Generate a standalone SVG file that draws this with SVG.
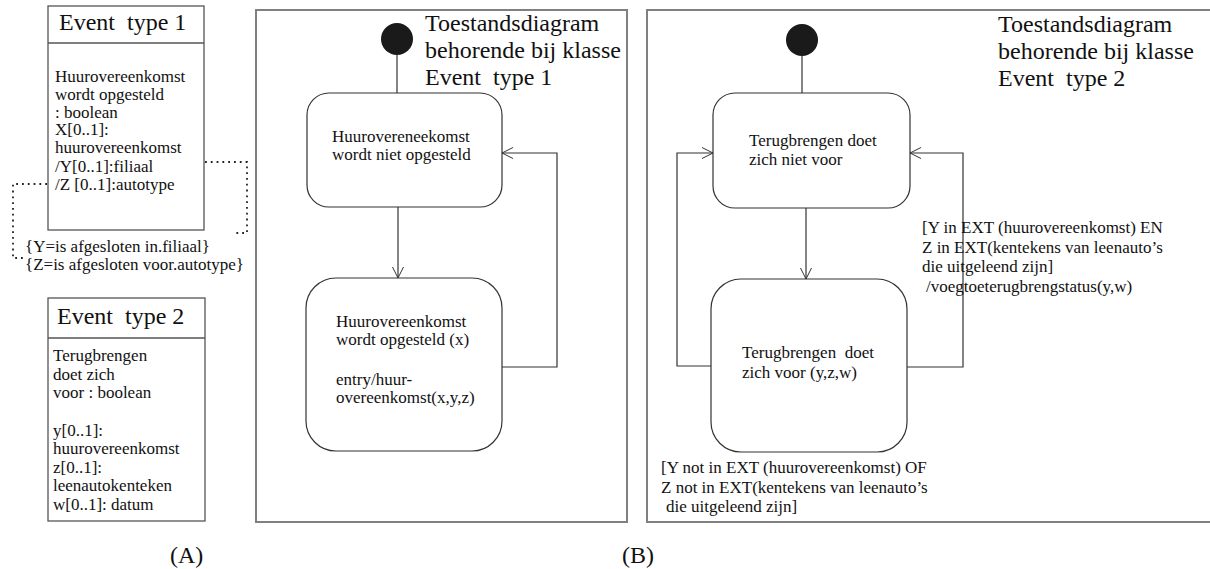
<svg xmlns="http://www.w3.org/2000/svg" width="1210" height="569" viewBox="0 0 1210 569">
  <defs>
    <marker id="open-arrow" markerWidth="13" markerHeight="13" refX="11" refY="6" orient="auto" markerUnits="userSpaceOnUse">
      <path d="M0,0.5 L11,6 L0,11.5" fill="none" stroke="#333" stroke-width="1"/>
    </marker>
  </defs>
  <style>
    text { font-family: "Liberation Serif", "Times New Roman", serif; fill: #111; }
    .t17 { font-size: 17px; }
    .t24 { font-size: 24px; }
    .cls { fill: #fff; stroke: #555; stroke-width: 1.3; }
    .panel { fill: none; stroke: #808080; stroke-width: 2; }
    .state { fill: #fff; stroke: #333; stroke-width: 1.2; }
    .start { fill: #1a1a1a; }
    .wire { fill: none; stroke: #333; stroke-width: 1.2; }
    .dots { fill: none; stroke: #222; stroke-width: 1.8; stroke-dasharray: 1.8 4; }
  </style>

  <rect width="1210" height="569" fill="#fff"/>

  <!-- (A) class boxes -->
  <g id="class-event-type-1">
    <rect class="cls" x="48" y="6" width="156" height="224"/>
    <line class="cls" x1="48" y1="43" x2="204" y2="43"/>
    <text class="t24" x="59" y="30" xml:space="preserve">Event  type 1</text>
    <text class="t17">
      <tspan x="55" y="82">Huurovereenkomst</tspan>
      <tspan x="55" y="100">wordt opgesteld</tspan>
      <tspan x="55" y="118">: boolean</tspan>
      <tspan x="55" y="135">X[0..1]:</tspan>
      <tspan x="55" y="153">huurovereenkomst</tspan>
      <tspan x="55" y="172">/Y[0..1]:filiaal</tspan>
      <tspan x="55" y="190">/Z [0..1]:autotype</tspan>
    </text>
  </g>

  <g id="constraints">
    <path class="dots" d="M205,162 H247 V233 H233"/>
    <path class="dots" d="M47,184 H13 V258 H23"/>
    <text class="t17">
      <tspan x="25" y="252">{Y=is afgesloten in.filiaal}</tspan>
      <tspan x="25" y="270">{Z=is afgesloten voor.autotype}</tspan>
    </text>
  </g>

  <g id="class-event-type-2">
    <rect class="cls" x="48" y="298" width="157" height="223"/>
    <line class="cls" x1="48" y1="338" x2="205" y2="338"/>
    <text class="t24" x="57" y="324" xml:space="preserve">Event  type 2</text>
    <text class="t17">
      <tspan x="53" y="361">Terugbrengen</tspan>
      <tspan x="53" y="380">doet zich</tspan>
      <tspan x="53" y="398">voor : boolean</tspan>
      <tspan x="53" y="436">y[0..1]:</tspan>
      <tspan x="53" y="454">huurovereenkomst</tspan>
      <tspan x="53" y="473">z[0..1]:</tspan>
      <tspan x="53" y="491">leenautokenteken</tspan>
      <tspan x="53" y="510">w[0..1]: datum</tspan>
    </text>
  </g>

  <text id="label-a" class="t24" x="170" y="563">(A)</text>

  <!-- (B) state diagram for Event type 1 -->
  <g id="panel-type-1">
    <rect class="panel" x="256" y="10" width="371" height="512"/>
    <text class="t24">
      <tspan x="425" y="31">Toestandsdiagram</tspan>
      <tspan x="425" y="58">behorende bij klasse</tspan>
      <tspan x="425" y="85" xml:space="preserve">Event  type 1</tspan>
    </text>
  </g>

  <g id="start-1">
    <circle class="start" cx="397" cy="39" r="16"/>
  </g>

  <g id="state-niet-opgesteld">
    <rect class="state" x="307" y="93" width="195" height="114" rx="22"/>
    <text class="t17">
      <tspan x="332" y="142">Huurovereneekomst</tspan>
      <tspan x="332" y="160">wordt niet opgesteld</tspan>
    </text>
  </g>

  <g id="state-opgesteld">
    <rect class="state" x="306" y="278" width="196" height="173" rx="30"/>
    <text class="t17">
      <tspan x="336" y="327">Huurovereenkomst</tspan>
      <tspan x="336" y="345">wordt opgesteld (x)</tspan>
      <tspan x="336" y="385">entry/huur-</tspan>
      <tspan x="336" y="403">overeenkomst(x,y,z)</tspan>
    </text>
  </g>

  <!-- (B) state diagram for Event type 2 -->
  <g id="panel-type-2">
    <rect class="panel" x="647" y="10" width="570" height="512"/>
    <text class="t24">
      <tspan x="998" y="32">Toestandsdiagram</tspan>
      <tspan x="998" y="59">behorende bij klasse</tspan>
      <tspan x="998" y="86" xml:space="preserve">Event  type 2</tspan>
    </text>
  </g>

  <g id="start-2">
    <circle class="start" cx="802" cy="40" r="16"/>
  </g>

  <g id="state-niet-voor">
    <rect class="state" x="713" y="93" width="197" height="115" rx="22"/>
    <text class="t17">
      <tspan x="749" y="146">Terugbrengen doet</tspan>
      <tspan x="749" y="165">zich niet voor</tspan>
    </text>
  </g>

  <g id="state-voor">
    <rect class="state" x="711" y="279" width="196" height="173" rx="30"/>
    <text class="t17" xml:space="preserve"><tspan x="742" y="358">Terugbrengen  doet</tspan><tspan x="742" y="378">zich voor (y,z,w)</tspan></text>
  </g>

  <g id="connectors">
    <!-- Event type 1 -->
    <line class="wire" x1="397" y1="55" x2="397" y2="93"/>
    <line class="wire" x1="398" y1="207" x2="398" y2="278" marker-end="url(#open-arrow)"/>
    <path class="wire" d="M502,367 H557 V153 H502" marker-end="url(#open-arrow)"/>
    <!-- Event type 2 -->
    <line class="wire" x1="802" y1="56" x2="802" y2="93"/>
    <line class="wire" x1="806" y1="208" x2="806" y2="279" marker-end="url(#open-arrow)"/>
    <path class="wire" d="M711,366 H677 V153 H713" marker-end="url(#open-arrow)"/>
    <path class="wire" d="M907,367 H963 V153 H910" marker-end="url(#open-arrow)"/>
  </g>

  <g id="guards">
    <text class="t17">
      <tspan x="922" y="233">[Y in EXT (huurovereenkomst) EN</tspan>
      <tspan x="922" y="253">Z in EXT(kentekens van leenauto’s</tspan>
      <tspan x="922" y="272">die uitgeleend zijn]</tspan>
      <tspan x="926" y="292">/voegtoeterugbrengstatus(y,w)</tspan>
    </text>
    <text class="t17">
      <tspan x="661" y="473">[Y not in EXT (huurovereenkomst) OF</tspan>
      <tspan x="661" y="493">Z not in EXT(kentekens van leenauto’s</tspan>
      <tspan x="666" y="512">die uitgeleend zijn]</tspan>
    </text>
  </g>

  <text id="label-b" class="t24" x="622" y="563">(B)</text>
</svg>
